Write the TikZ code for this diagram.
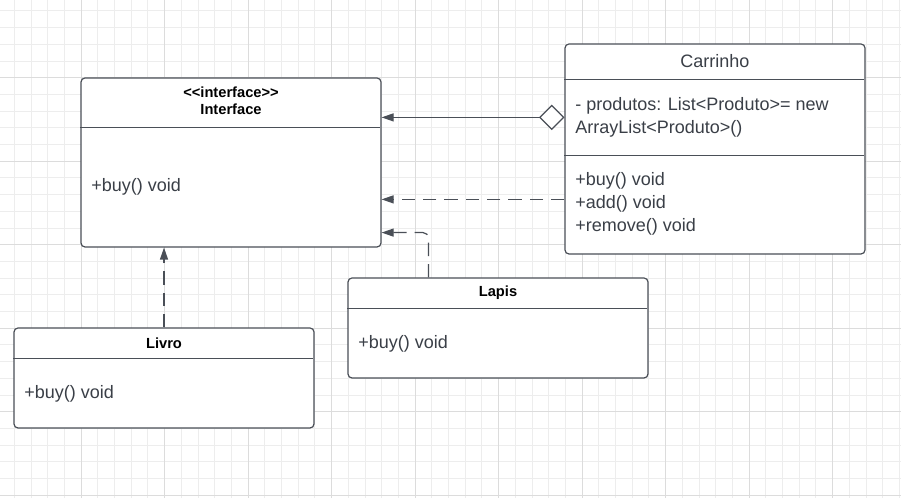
\documentclass[tikz,border=0pt]{standalone}
\usepackage{fontspec}
\setmainfont{Liberation Sans}
\usepackage{xcolor}
\usetikzlibrary{arrows.meta, positioning}
\definecolor{inkgrey}{HTML}{4A4F57}
\definecolor{textgrey}{HTML}{3A3F47}
\definecolor{gridminor}{HTML}{EDEDED}
\definecolor{gridmajor}{HTML}{DCDCDC}
\tikzstyle{classbox} = [rectangle, rounded corners=3pt, draw=inkgrey, fill=white, line width=0.9pt, minimum width=225pt, inner sep=0pt]
\tikzstyle{divider} = [draw=inkgrey, line width=0.9pt]
\tikzstyle{classname} = [font=\fontsize{11}{13}\selectfont\bfseries, text=black, align=center, inner sep=0pt]
\tikzstyle{member} = [font=\fontsize{13.5}{17.3}\selectfont, text=textgrey, align=left, anchor=west, inner sep=0pt]
\tikzstyle{realize} = [line width=0.9pt, dash pattern=on 10pt off 6pt, -{Triangle[length=9pt, width=6pt]}, color=inkgrey]
\tikzstyle{aggregate} = [line width=0.9pt, {Diamond[length=19pt, width=19pt, fill=white]}-{Triangle[length=9pt, width=6pt]}, color=inkgrey]

\begin{document}
\begin{tikzpicture}[x=0.75pt, y=-0.75pt]
\useasboundingbox (0,0) rectangle (901,498);
\begin{scope}
\clip (0,0) rectangle (901,498);
\foreach \i in {0,...,54} \draw[gridminor, line width=0.6pt] (-2.5+\i*16.7,0) -- ++(0,498);
\foreach \j in {0,...,30} \draw[gridminor, line width=0.6pt] (0,-5.8+\j*16.7) -- ++(901,0);
\foreach \i in {0,...,10} \draw[gridmajor, line width=0.6pt] (-2.5+\i*83.5,0) -- ++(0,498);
\foreach \j in {0,...,6} \draw[gridmajor, line width=0.6pt] (0,-5.8+\j*83.5) -- ++(901,0);
\end{scope}

\node (iface) [classbox, minimum height=126.75pt] at (231,162.5) {};
\draw[divider] (iface.north west) ++(0,50) -- ++(300,0);
\node (ifacename) [classname] at (231,101) {\mbox{<}\mbox{<}interface\mbox{>}\mbox{>}\\Interface};
\node (ifacebuy) [member] at (91,187) {+buy() void};

\node (carr) [classbox, minimum height=157.5pt] at (715,149) {};
\draw[divider] (carr.north west) ++(0,36) -- ++(300,0);
\draw[divider] (carr.north west) ++(0,112) -- ++(300,0);
\node (carrname) [member, anchor=center] at (715,61) {Carrinho};
\node (carrattr) [member] at (575,117.5) {- produtos: List\mbox{<}Produto\mbox{>}= new\\ArrayList\mbox{<}Produto\mbox{>}()};
\node (carrops) [member] at (575,204) {+buy() void\\+add() void\\+remove() void};

\node (livro) [classbox, minimum height=75pt] at (164,378) {};
\draw[divider] (livro.north west) ++(0,31) -- ++(300,0);
\node (livroname) [classname] at (164,343) {Livro};
\node (livrobuy) [member] at (24,394) {+buy() void};

\node (lapis) [classbox, minimum height=75pt] at (498,328) {};
\draw[divider] (lapis.north west) ++(0,31) -- ++(300,0);
\node (lapisname) [classname] at (498,293) {Lapis};
\node (lapisbuy) [member] at (358,344) {+buy() void};

\draw[aggregate] ([yshift=-55.5pt]carr.north west) -- ([yshift=-55.5pt]carr.north west -| iface.east);
\draw[realize] ([yshift=-117pt]carr.north west) -- ([yshift=-117pt]carr.north west -| iface.east);
\draw[realize, rounded corners=4pt] ([xshift=60.75pt]lapis.north west) |- ([yshift=11.25pt]iface.south east);
\draw[realize] (livro.north) -- (livro.north |- iface.south);
\end{tikzpicture}
\end{document}
